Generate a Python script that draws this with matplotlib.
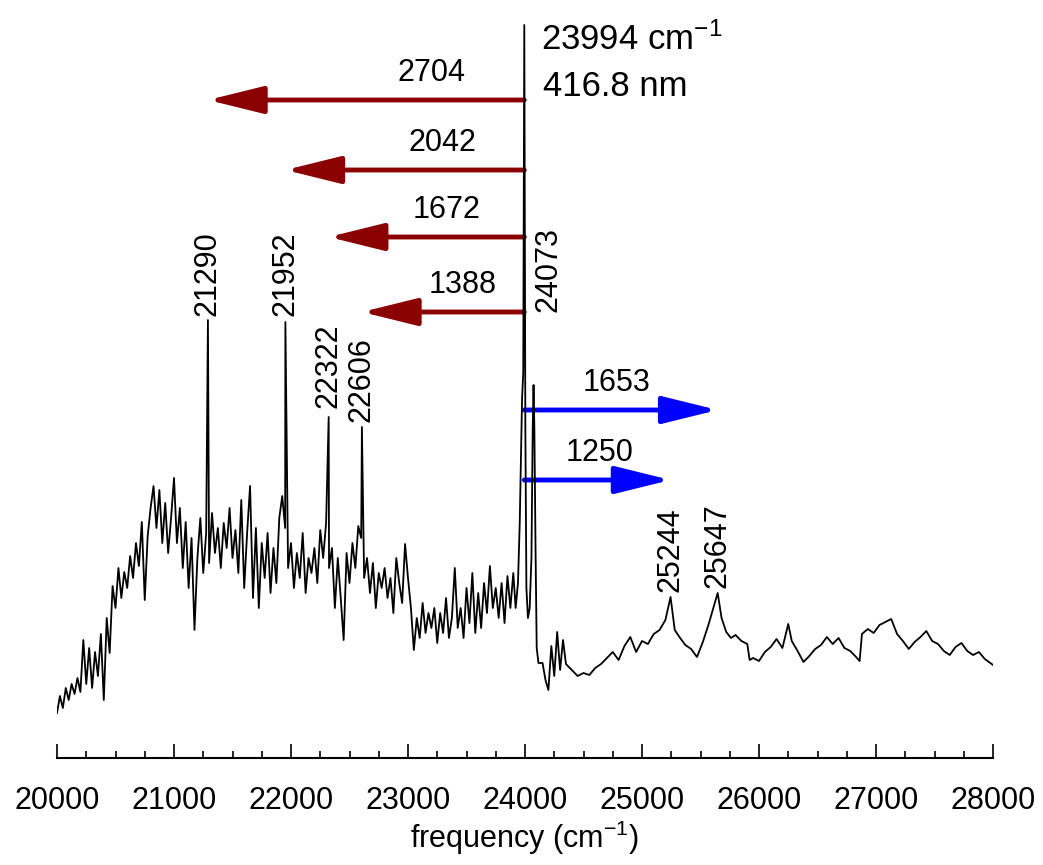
#Spectrum_with_shift_arrows

import numpy as np
import matplotlib.pyplot as plt
from matplotlib.patches import FancyArrowPatch

plt.rcParams['font.family'] = ['Liberation Sans', 'DejaVu Sans']
plt.rcParams['mathtext.default'] = 'regular'

#Data_left_noisy_part (25 cm-1 grid, 20000..23900)
freq_left = np.arange(20000, 23901, 25)
sig_left = [45, 62, 50, 70, 58, 74, 64, 80,
            66, 118, 74, 110, 70, 106, 82, 124,
            58, 140, 105, 172, 150, 190, 160, 186,
            170, 202, 180, 215, 192, 236, 158, 222,
            250, 272, 230, 268, 215, 255, 205, 240,
            280, 215, 250, 190, 236, 170, 220, 128,
            200, 240, 185, 225, 195, 245, 205, 230,
            190, 235, 210, 250, 200, 228, 185, 258,
            170, 225, 272, 160, 230, 150, 215, 180,
            225, 165, 210, 175, 240, 262, 230, 190,
            215, 170, 205, 180, 225, 165, 200, 185,
            210, 175, 228, 200, 235, 190, 210, 150,
            200, 160, 118, 205, 175, 215, 190, 232,
            220, 180, 200, 165, 195, 150, 185, 170,
            190, 160, 180, 145, 200, 175, 155, 214,
            180, 150, 108, 140, 120, 155, 125, 145,
            130, 150, 115, 145, 125, 160, 120, 140,
            190, 130, 150, 120, 170, 135, 185, 125,
            165, 130, 175, 145, 192, 150, 170, 140,
            175, 135, 182, 150, 185]

#Sharp_lines_in_left_part
peak_freq = [21290, 21952, 22322, 22606]
peak_sig = [438, 436, 341, 331]

#Main_line_region
freq_mid = [23920, 23940, 23955, 23965, 23975, 23985, 23994, 24003, 24012, 24025,
            24040, 24055, 24066, 24073, 24080, 24090, 24100, 24115]
sig_mid = [150, 175, 235, 300, 360, 385, 733, 330, 170, 140,
           150, 200, 330, 373, 330, 210, 110, 95]

#Right_part
freq_right = [24150, 24175, 24200, 24225, 24250, 24275, 24300, 24325, 24350, 24400,
              24450, 24500, 24550, 24600, 24650, 24700, 24750, 24800, 24850, 24900,
              24950, 25000, 25050, 25100, 25150, 25200, 25244, 25280, 25320, 25370,
              25420, 25470, 25520, 25570, 25610, 25647, 25680, 25720, 25760, 25800,
              25850, 25900, 25920, 25950, 26000, 26050, 26100, 26150, 26200, 26250,
              26280, 26330, 26380, 26430, 26480, 26530, 26580, 26630, 26680, 26730,
              26780, 26830, 26860, 26880, 26930, 26980, 27030, 27080, 27130, 27180,
              27230, 27280, 27330, 27380, 27430, 27480, 27530, 27580, 27630, 27680,
              27730, 27780, 27830, 27880, 27930, 28000]
sig_right = [95, 78, 68, 112, 82, 126, 88, 118, 94, 88,
             82, 85, 83, 90, 94, 100, 106, 98, 112, 121,
             106, 117, 114, 124, 128, 138, 161, 128, 121, 113,
             109, 101, 116, 134, 150, 165, 140, 126, 120, 123,
             117, 114, 98, 100, 97, 106, 111, 119, 110, 134,
             117, 107, 96, 102, 109, 113, 121, 114, 120, 110,
             107, 101, 97, 124, 129, 125, 133, 136, 139, 124,
             117, 109, 116, 121, 127, 117, 114, 107, 103, 111,
             115, 107, 103, 106, 99, 93]

#Labels
line_labels = ['21290', '21952', '22322', '22606', '24073', '25244', '25647']
line_label_x = [21290, 21952, 22322, 22606, 24200, 25244, 25647]
line_label_y = [442, 442, 350, 336, 446, 166, 170]

excitation = 23994
red_shifts = [2704, 2042, 1672, 1388]
red_arrow_y = [658, 588, 521, 446]
red_label_x = [23205, 23291, 23333, 23470]
blue_shifts = [1653, 1250]
blue_arrow_y = [348, 278]
blue_label_x = [24786, 24641]

#Building_full_trace
freq = np.concatenate([freq_left, peak_freq, freq_mid, freq_right])
sig = np.concatenate([sig_left, peak_sig, sig_mid, sig_right])
order = np.argsort(freq, kind='stable')
freq = freq[order]
sig = sig[order]

fig = plt.figure(figsize=(10.43, 8.65), dpi=100)
ax = fig.add_axes([57/1043, 107/865, 936/1043, 758/865])
ax.plot(freq, sig, color='black', lw=1.3)
ax.set_xlim(20000, 28000)
ax.set_ylim(0, 758)

#Axis_style
for s in ['left', 'right', 'top']:
    ax.spines[s].set_visible(False)
ax.spines['bottom'].set_linewidth(1.5)
ax.set_yticks([])
ax.set_xticks(np.arange(20000, 28001, 1000))
ax.set_xticks(np.arange(20000, 28001, 250), minor=True)
ax.tick_params(axis='x', which='major', direction='in', length=10, width=1.2,
               labelsize=22, pad=20)
ax.tick_params(axis='x', which='minor', direction='in', length=5, width=1.2)
ax.set_xlabel('frequency (cm$^{-1}$)', fontsize=22, labelpad=2)

#Peak_labels
for lab, x, y in zip(line_labels, line_label_x, line_label_y):
    ax.text(x, y, lab, rotation=90, ha='center', va='bottom', fontsize=22)

ax.text(24139, 736, '23994 cm$^{-1}$', ha='left', va='top', fontsize=25)
ax.text(24150, 671, '416.8 nm', ha='left', va='center', fontsize=25)

#Arrows
def draw_arrow(x0, x1, y, col):
    arr = FancyArrowPatch((x0, y), (x1, y), arrowstyle='-|>,head_length=1.7,head_width=0.42',
                          mutation_scale=20, color=col, lw=3.5, shrinkA=0, shrinkB=0)
    ax.add_patch(arr)

for sh, y, lx in zip(red_shifts, red_arrow_y, red_label_x):
    draw_arrow(excitation, excitation - sh, y, '#8b0000')
    ax.text(lx, y + 12, str(sh), ha='center', va='bottom', fontsize=22)

for sh, y, lx in zip(blue_shifts, blue_arrow_y, blue_label_x):
    draw_arrow(excitation, excitation + sh, y, '#0000ff')
    ax.text(lx, y + 12, str(sh), ha='center', va='bottom', fontsize=22)

plt.savefig('out.png', dpi=100)
